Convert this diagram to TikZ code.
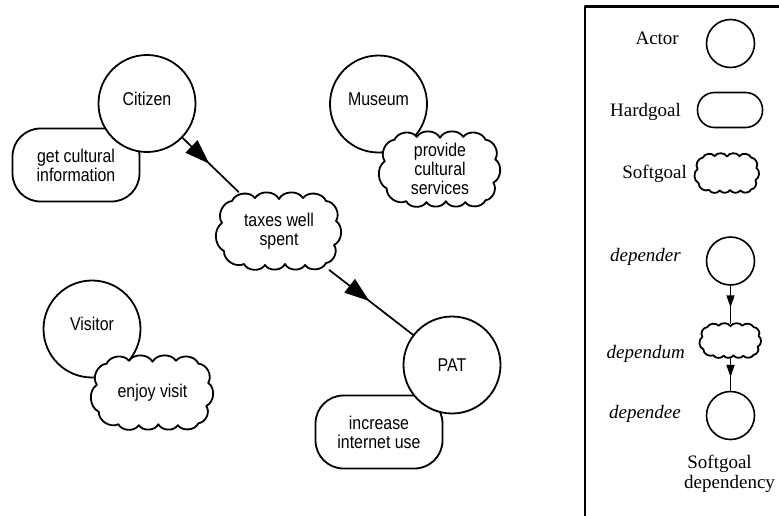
\documentclass[tikz,border=0pt]{standalone}
\usepackage{fontspec}
\setmainfont{Liberation Serif}
\newfontfamily\helv[FakeStretch=0.86]{Liberation Sans}
\usetikzlibrary{arrows.meta,decorations.markings}
\newcommand{\sansfnt}{\helv\fontsize{18.5}{19}\selectfont}
\newcommand{\legfnt}{\fontsize{19}{20}\selectfont}
\newcommand{\cloudat}[4]{%
  \begin{scope}[shift={(#1,#2)}, xscale=#3/128, yscale=#4/78]
    \draw[cloudline] (-55,20) to[cb] (-57,-8) to[cb] (-47,-30) to[cb] (-24,-33) to[cb] (0,-32)
      to[cb] (24,-33) to[cb] (47,-30) to[cb] (57,-10) to[cb] (55,14) to[cb] (47,32)
      to[cb] (26,34) to[cb] (6,33) to[cb] (-14,34) to[cb] (-35,33) to[cb] (-55,20);
  \end{scope}}
\begin{document}
\begin{tikzpicture}[x=1pt,y=-1pt,line cap=round,line join=round,
  cb/.style={bend left=60},
  cloudline/.style={draw=black,fill=white,line width=1.8pt},
  actor/.style={circle,draw,line width=1.8pt,fill=white,minimum size=97pt,inner sep=0pt,font=\sansfnt},
  hardgoal/.style={rectangle,rounded corners=28pt,draw,line width=1.8pt,fill=white,
    minimum width=127pt,minimum height=73pt,align=center,inner sep=0pt,font=\sansfnt},
  sgbox/.style={rectangle,inner sep=0pt,outer sep=0pt,align=center,font=\sansfnt},
  lact/.style={circle,draw,line width=1.6pt,fill=white,minimum size=48pt,inner sep=0pt},
  lhard/.style={rectangle,rounded corners=17pt,draw,line width=1.6pt,fill=white,
    minimum width=65pt,minimum height=35pt,inner sep=0pt},
  legtext/.style={font=\legfnt,inner sep=0pt},
  frame/.style={line width=2.4pt,line cap=butt},
  dep/.style={line width=1.7pt,postaction={decorate},
    decoration={markings,mark=at position 0.48 with {\arrow{Triangle[length=25pt,width=17pt]}}}},
  ldep/.style={line width=1.5pt,postaction={decorate},
    decoration={markings,mark=at position 0.58 with {\arrow{Triangle[length=12pt,width=8pt]}}}}
]
\useasboundingbox (0,0) rectangle (779,515);

% legend frame
\draw[frame] (584.7,520) -- (584.7,6.3) -- (785,6.3);

% main diagram
\node[hardgoal] (getinfo) at (76,165) {get cultural\\information};
\node[actor,text depth=10pt] (citizen) at (147,103.5) {Citizen};
\node[actor,text depth=10pt] (museum) at (378.5,104) {Museum};
\cloudat{440}{169}{124}{76}
\node[sgbox,minimum width=124pt,minimum height=76pt] (provide) at (440,169) {provide\\cultural\\services};
\cloudat{279}{231}{128}{78}
\node[sgbox,minimum width=128pt,minimum height=78pt] (taxes) at (279,231) {taxes well\\spent};
\node[actor,text depth=10pt] (visitor) at (92,329) {Visitor};
\cloudat{152.5}{392.5}{125}{75}
\node[sgbox,minimum width=125pt,minimum height=75pt] (enjoy) at (152.5,392.5) {enjoy visit};
\node[hardgoal] (increase) at (379,432) {increase\\internet use};
\node[actor] (pat) at (452,365) {PAT};
\draw[dep] (citizen) -- (taxes);
\draw[dep] (taxes) -- (pat);

% legend
\node[legtext,anchor=base east] (t-actor) at (679,44) {Actor};
\node[lact] (l-actor) at (730.5,43.5) {};
\node[legtext,anchor=base east] (t-hard) at (681,116) {Hardgoal};
\node[lhard] (l-hard) at (730,110) {};
\node[legtext,anchor=base east] (t-soft) at (687,178) {Softgoal};
\cloudat{727}{173}{66}{40}
\node[sgbox,minimum width=66pt,minimum height=40pt] (l-soft) at (727,173) {};
\node[legtext,anchor=base east] (t-depender) at (681,261) {\itshape depender};
\node[lact] (l-depender) at (730.5,261) {};
\node[legtext,anchor=base east] (t-dependum) at (685,358) {\itshape dependum};
\cloudat{730.5}{340.5}{63}{35}
\node[sgbox,minimum width=63pt,minimum height=35pt] (l-dependum) at (730.5,340.5) {};
\node[legtext,anchor=base east] (t-dependee) at (681,418) {\itshape dependee};
\node[lact] (l-dependee) at (730.5,415.5) {};
\draw[ldep] (l-depender) -- (l-dependum);
\draw[ldep] (l-dependum) -- (l-dependee);
\node[legtext,align=left,anchor=north west] (t-sdep) at (684,455) {\,Softgoal\\dependency};
\end{tikzpicture}
\end{document}
